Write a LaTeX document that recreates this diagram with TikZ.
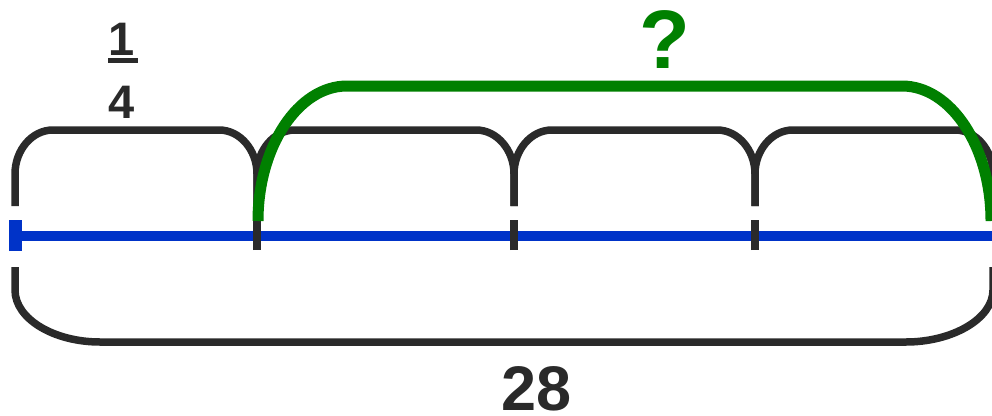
\documentclass[tikz,border=0pt]{standalone}
\usepackage{fontspec}
\setmainfont{Liberation Sans}
\definecolor{ink}{HTML}{2A2A2A}
\definecolor{lineblue}{HTML}{0033C8}
\definecolor{qgreen}{HTML}{008000}
\begin{document}
\begin{tikzpicture}[x=1pt,y=-1pt,
  brk/.style={draw=ink,line width=7.5pt},
  tick/.style={draw=ink,line width=8pt},
  gbrk/.style={draw=qgreen,line width=11pt},
  lbl/.style={text=ink,font=\bfseries,anchor=base,inner sep=0pt}]
\useasboundingbox (0,0) rectangle (992,415);
% tick positions
\coordinate (t0) at (15,236);
\coordinate (t1) at (257,236);
\coordinate (t2) at (514,236);
\coordinate (t3) at (755,236);
\coordinate (t4) at (993,236);
% blue number line
\draw[draw=lineblue,line width=10pt] (t0) -- (t4);
\draw[draw=lineblue,line width=13pt] ([xshift=0.5pt,yshift=-15pt]t0) -- ([xshift=0.5pt,yshift=16pt]t0);
% ticks
\foreach \t in {t1,t2,t3}
  \draw[tick] ([yshift=-14pt]\t) -- ([yshift=16pt]\t);
% top black brackets
\foreach \a/\b in {15/257,257/514,514/755,755/993}{
  \draw[brk] (\a,206) -- (\a,174) .. controls (\a,150) and ({\a+17},130) .. ({\a+38},130)
    -- ({\b-38},130) .. controls ({\b-17},130) and (\b,150) .. (\b,174) -- (\b,206);
}
% bottom black bracket
\draw[brk] (15,267) -- (15,290) .. controls (15,319) and (54,342) .. (100,342)
  -- (906,342) .. controls (952,342) and (993,319) .. (993,290) -- (993,267);
% green bracket
\draw[gbrk] (258,221) .. controls (258,147) and (298,86) .. (347,86)
  -- (902,86) .. controls (951,86) and (991,147) .. (991,221);
% labels
\node[lbl,font=\bfseries\fontsize{47}{50}\selectfont] (one) at (122,55) {1};
\draw[draw=ink,line width=5pt] (108,60) -- (138,60);
\node[lbl,font=\bfseries\fontsize{47}{50}\selectfont] (four) at (122,118) {4};
\node[lbl,text=qgreen,font=\bfseries\fontsize{83}{90}\selectfont] (q) at (665,68) {?};
\node[lbl,font=\bfseries\fontsize{63}{70}\selectfont] (total) at (537,410) {28};
\end{tikzpicture}
\end{document}
